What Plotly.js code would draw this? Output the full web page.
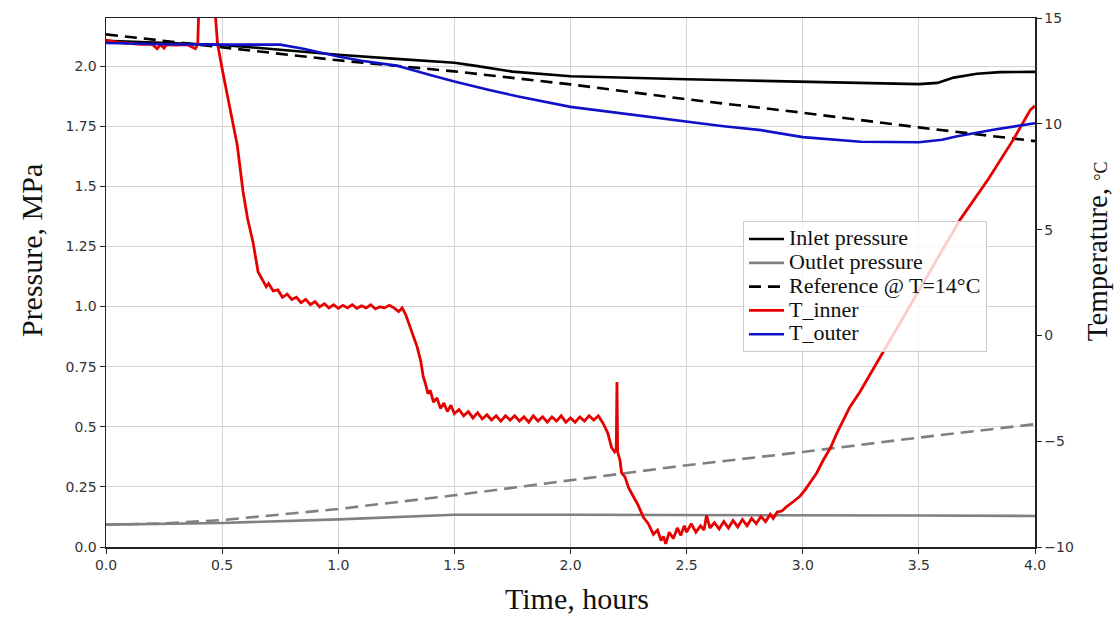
<!DOCTYPE html>
<html>
<head>
<meta charset="utf-8">
<script src="https://cdn.plot.ly/plotly-3.0.1.min.js"></script>
<style>html,body{margin:0;padding:0;background:#fff;}#chart{width:1114px;height:617px;}</style>
</head>
<body>
<div id="chart"></div>
<script>
// ---- data (time in hours) ----
const timeInlet = [0, 0.25, 0.5, 0.75, 1.0, 1.25, 1.5, 1.6, 1.75, 2.0, 2.25, 2.5, 2.75, 3.0, 3.25, 3.5, 3.58, 3.65, 3.75, 3.85, 4.0];
const inletPressure = [2.105, 2.098, 2.088, 2.068, 2.047, 2.03, 2.014, 2.0, 1.977, 1.958, 1.95, 1.945, 1.94, 1.935, 1.93, 1.925, 1.93, 1.952, 1.968, 1.975, 1.976];

const timeOutlet = [0, 0.5, 1.0, 1.25, 1.5, 2.0, 2.5, 3.0, 3.5, 4.0];
const outletPressure = [0.093, 0.1, 0.115, 0.125, 0.134, 0.134, 0.134, 0.133, 0.131, 0.129];

const timeReference = [0, 0.5, 1.0, 1.5, 2.0, 2.5, 3.0, 3.5, 4.0];
const referencePressure = [2.132, 2.078, 2.024, 1.978, 1.924, 1.862, 1.806, 1.745, 1.688];

const timeOutletRef = [0, 0.25, 0.5, 1.0, 1.5, 2.0, 2.5, 3.0, 3.5, 4.0];
const outletReference = [0.093, 0.098, 0.112, 0.158, 0.215, 0.279, 0.34, 0.395, 0.455, 0.511];

const timeInner = [0, 0.05, 0.1, 0.15, 0.2, 0.22, 0.235, 0.25, 0.26, 0.3, 0.35, 0.385, 0.395, 0.405, 0.455, 0.48, 0.5, 0.52, 0.545, 0.565, 0.59, 0.61, 0.633, 0.655, 0.675, 0.69, 0.7, 0.72, 0.74, 0.76, 0.78, 0.8, 0.82, 0.84, 0.86, 0.88, 0.9, 0.92, 0.94, 0.96, 0.98, 1.0, 1.02, 1.04, 1.06, 1.08, 1.1, 1.12, 1.14, 1.16, 1.18, 1.2, 1.22, 1.24, 1.26, 1.275, 1.29, 1.31, 1.325, 1.34, 1.355, 1.366, 1.376, 1.386, 1.396, 1.41, 1.425, 1.44, 1.455, 1.47, 1.485, 1.5, 1.52, 1.54, 1.56, 1.58, 1.6, 1.62, 1.64, 1.66, 1.68, 1.7, 1.72, 1.74, 1.76, 1.78, 1.8, 1.82, 1.84, 1.86, 1.88, 1.9, 1.92, 1.94, 1.96, 1.98, 2.0, 2.02, 2.04, 2.06, 2.08, 2.1, 2.12, 2.14, 2.16, 2.177, 2.19, 2.197, 2.2, 2.203, 2.213, 2.22, 2.235, 2.25, 2.27, 2.29, 2.314, 2.335, 2.357, 2.375, 2.39, 2.4, 2.41, 2.425, 2.443, 2.46, 2.475, 2.49, 2.5, 2.52, 2.54, 2.56, 2.575, 2.586, 2.6, 2.62, 2.64, 2.66, 2.68, 2.7, 2.72, 2.74, 2.76, 2.78, 2.8, 2.82, 2.84, 2.86, 2.873, 2.89, 2.91, 2.93, 2.96, 2.988, 3.01, 3.03, 3.06, 3.088, 3.12, 3.146, 3.175, 3.203, 3.246, 3.35, 3.5, 3.677, 3.8, 3.906, 3.98, 4.0];
const tInner = [13.95, 13.85, 13.8, 13.75, 13.75, 13.55, 13.74, 13.58, 13.74, 13.72, 13.74, 13.55, 13.75, 17.5, 17.5, 13.8, 12.6, 11.5, 10.2, 9.0, 6.8, 5.5, 4.4, 3.0, 2.6, 2.3, 2.45, 2.1, 2.15, 1.8, 1.95, 1.7, 1.8, 1.55, 1.7, 1.45, 1.6, 1.35, 1.5, 1.3, 1.45, 1.28, 1.42, 1.3, 1.45, 1.28, 1.4, 1.3, 1.45, 1.25, 1.35, 1.3, 1.42, 1.3, 1.12, 1.3, 1.0, 0.4, 0.0, -0.55, -1.2, -1.95, -2.3, -2.75, -2.6, -3.15, -2.95, -3.45, -3.2, -3.6, -3.3, -3.7, -3.5, -3.8, -3.6, -3.9, -3.65, -3.95, -3.75, -4.0, -3.8, -4.05, -3.8, -4.0, -3.8, -4.05, -3.85, -4.1, -3.8, -4.05, -3.85, -4.1, -3.85, -4.05, -3.8, -4.1, -3.9, -4.1, -3.85, -4.05, -3.8, -4.0, -3.8, -4.15, -4.6, -5.3, -5.5, -5.4, -2.2, -5.5, -5.9, -6.5, -6.7, -7.2, -7.6, -8.0, -8.6, -8.9, -9.4, -9.2, -9.7, -9.5, -9.85, -9.3, -9.6, -9.1, -9.45, -9.0, -9.3, -8.9, -9.3, -9.0, -9.2, -8.5, -9.1, -8.85, -9.15, -8.8, -9.1, -8.75, -9.05, -8.7, -9.0, -8.65, -8.9, -8.55, -8.8, -8.45, -8.65, -8.35, -8.3, -8.1, -7.85, -7.6, -7.3, -7.0, -6.5, -5.9, -5.3, -4.64, -4.0, -3.38, -2.67, -0.7, 2.1, 5.46, 7.4, 9.24, 10.66, 10.85];

const timeOuter = [0, 0.25, 0.5, 0.75, 0.85, 1.0, 1.1, 1.25, 1.4, 1.5, 1.65, 1.77, 2.0, 2.25, 2.5, 2.65, 2.82, 3.0, 3.25, 3.5, 3.6, 3.66, 3.82, 4.0];
const tOuter = [13.82, 13.76, 13.74, 13.74, 13.55, 13.18, 12.98, 12.75, 12.3, 12.0, 11.6, 11.3, 10.8, 10.45, 10.1, 9.9, 9.7, 9.37, 9.15, 9.13, 9.25, 9.4, 9.72, 10.03];

const seriesNames = ['Inlet pressure', 'Outlet pressure', 'Reference @ T=14°C', 'T_inner', 'T_outer'];
const xTickVals = [0, 0.5, 1.0, 1.5, 2.0, 2.5, 3.0, 3.5, 4.0];
const xTickText = ['0.0', '0.5', '1.0', '1.5', '2.0', '2.5', '3.0', '3.5', '4.0'];
const yTickVals = [0, 0.25, 0.5, 0.75, 1.0, 1.25, 1.5, 1.75, 2.0];
const yTickText = ['0.0', '0.25', '0.5', '0.75', '1.0', '1.25', '1.5', '1.75', '2.0'];
const y2TickVals = [-10, -5, 0, 5, 10, 15];

// ---- chart ----
const serif = 'Liberation Serif, Times New Roman, serif';
const sans = 'DejaVu Sans, sans-serif';
const lg = n => "<span style='font-size:22px'>" + n + "</span>";

const traces = [
  {x: timeInlet, y: inletPressure, name: lg(seriesNames[0]), mode: 'lines', line: {color: '#000000', width: 2.6}, yaxis: 'y'},
  {x: timeOutlet, y: outletPressure, name: lg(seriesNames[1]), mode: 'lines', line: {color: '#808080', width: 2.6}, yaxis: 'y'},
  {x: timeReference, y: referencePressure, name: lg(seriesNames[2]), mode: 'lines', line: {color: '#000000', width: 2.6, dash: '12px,7px'}, yaxis: 'y'},
  {x: timeOutletRef, y: outletReference, name: 'Outlet reference', showlegend: false, mode: 'lines', line: {color: '#808080', width: 2.6, dash: '13px,7px'}, yaxis: 'y'},
  {x: timeInner, y: tInner, name: lg(seriesNames[3]), mode: 'lines', line: {color: '#e60000', width: 2.8}, yaxis: 'y2'},
  {x: timeOuter, y: tOuter, name: lg(seriesNames[4]), mode: 'lines', line: {color: '#1010c8', width: 2.6}, yaxis: 'y2'}
];

const layout = {
  width: 1114, height: 617,
  margin: {l: 106, r: 79, t: 18, b: 70},
  paper_bgcolor: '#ffffff', plot_bgcolor: '#ffffff',
  showlegend: true,
  legend: {
    x: 0.6857, y: 0.616, xanchor: 'left', yanchor: 'top',
    bgcolor: 'rgba(255,255,255,0.8)', bordercolor: '#cccccc', borderwidth: 1,
    font: {family: serif, size: 16, color: '#111'},
    itemwidth: 35
  },
  xaxis: {
    range: [0, 4], tickvals: xTickVals, ticktext: xTickText,
    showgrid: true, gridcolor: '#d3d3d3', gridwidth: 1,
    showline: true, linecolor: '#222', linewidth: 1.5, mirror: true,
    ticks: 'outside', ticklen: 5, tickcolor: '#222',
    tickfont: {family: sans, size: 14, color: '#333'},
    zeroline: false
  },
  yaxis: {
    range: [0, 2.2], tickvals: yTickVals, ticktext: yTickText,
    showgrid: true, gridcolor: '#d3d3d3', gridwidth: 1,
    showline: true, linecolor: '#222', linewidth: 1.5, mirror: true,
    ticks: 'outside', ticklen: 5, tickcolor: '#222',
    tickfont: {family: sans, size: 14, color: '#333'},
    zeroline: false
  },
  yaxis2: {
    range: [-10, 15], tickvals: y2TickVals, overlaying: 'y', side: 'right',
    showgrid: false, showline: true, linecolor: '#222', linewidth: 1.5,
    ticks: 'outside', ticklen: 5, tickcolor: '#222',
    tickfont: {family: sans, size: 14, color: '#333'},
    zeroline: false
  },
  annotations: [
    {text: 'Time, hours', xref: 'paper', yref: 'paper', x: 0.507, y: -0.098, xanchor: 'center', yanchor: 'middle', showarrow: false, font: {family: serif, size: 30, color: '#111'}},
    {text: 'Pressure, MPa', xref: 'paper', yref: 'paper', x: -0.0807, y: 0.5595, xanchor: 'center', yanchor: 'middle', textangle: -90, showarrow: false, font: {family: serif, size: 30, color: '#111'}},
    {text: "Temperature, <span style='font-size:18px'>°C</span>", xref: 'paper', yref: 'paper', x: 1.067, y: 0.5595, xanchor: 'center', yanchor: 'middle', textangle: -90, showarrow: false, font: {family: serif, size: 29, color: '#111'}}
  ]
};

Plotly.newPlot('chart', traces, layout, {staticPlot: true, displayModeBar: false});
</script>
</body>
</html>
